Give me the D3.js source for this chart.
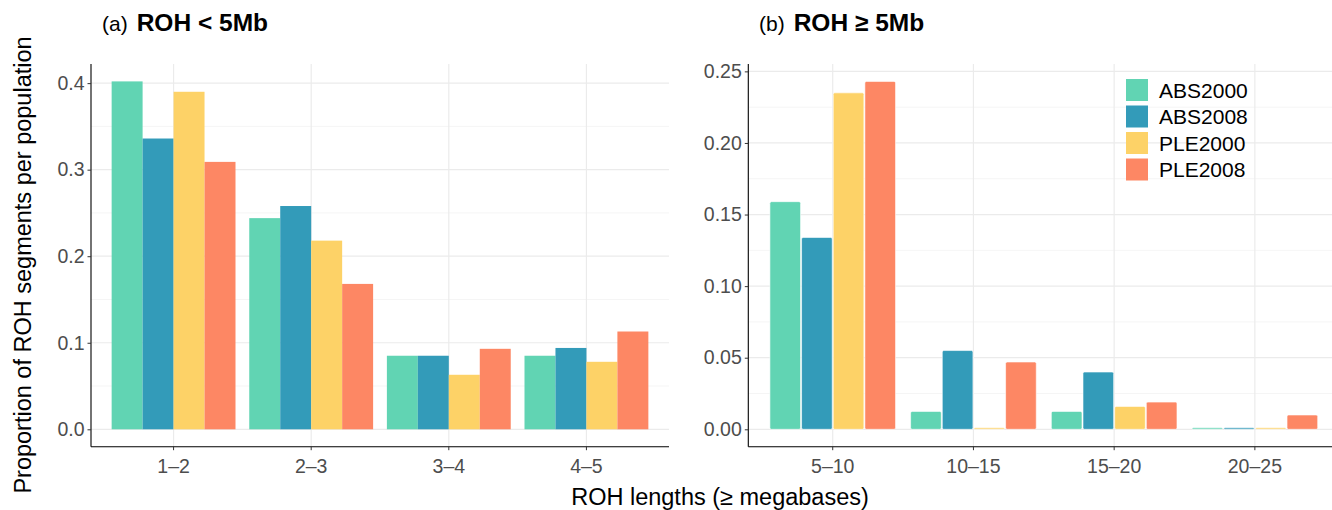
<!DOCTYPE html>
<html>
<head>
<meta charset="utf-8">
<script src="https://cdn.jsdelivr.net/npm/d3@7"></script>
<style>
  body { margin: 0; background: #fff; }
  svg { display: block; font-family: "Liberation Sans", Arial, sans-serif; }
  .tick text { fill: #4d4d4d; font-size: 19.5px; }
</style>
</head>
<body>
<div id="chart"></div>
<script>
const populations = ["ABS2000", "ABS2008", "PLE2000", "PLE2008"];
const colors = ["#61d4b3", "#339bb9", "#fdd267", "#fd8764"];

const shortBins = ["1–2", "2–3", "3–4", "4–5"];
const shortABS2000 = [0.402, 0.244, 0.085, 0.085];
const shortABS2008 = [0.336, 0.258, 0.085, 0.094];
const shortPLE2000 = [0.390, 0.218, 0.063, 0.078];
const shortPLE2008 = [0.309, 0.168, 0.093, 0.113];

const longBins = ["5–10", "10–15", "15–20", "20–25"];
const longABS2000 = [0.159, 0.0125, 0.0125, 0.001];
const longABS2008 = [0.134, 0.055, 0.040, 0.001];
const longPLE2000 = [0.235, 0.001, 0.016, 0.001];
const longPLE2008 = [0.243, 0.047, 0.019, 0.010];

const yTicksA = [0, 0.1, 0.2, 0.3, 0.4];
const yTicksB = [0, 0.05, 0.10, 0.15, 0.20, 0.25];

const width = 1332;
const height = 510;
const plotTop = 64;
const plotBottom = 446.7;

const svg = d3.select('#chart')
  .append('svg')
  .attr('width', width)
  .attr('height', height)

function panel(opts) {
  const rows = opts.series;
  const table = opts.bins.map((b, i) => ({
    bin: b,
    values: populations.map((p, j) => ({ pop: p, value: rows[j][i], color: colors[j] }))
  }));
  const maxVal = d3.max(rows.flat());
  const pad = maxVal * 0.05;

  const x = d3.scaleBand()
    .domain(opts.bins)
    .range([opts.left, opts.right])
    .paddingInner(0.1)
    .paddingOuter(0.15)

  const xInner = d3.scaleBand()
    .domain(populations)
    .range([0, x.bandwidth()])

  const y = d3.scaleLinear()
    .domain([-pad, maxVal + pad])
    .range([plotBottom, plotTop])

  const g = svg.append('g');

  // minor grid
  const minor = opts.ticks.slice(0, -1).map((t, i) => (t + opts.ticks[i + 1]) / 2);
  const lastStep = opts.ticks[1] - opts.ticks[0];
  const extra = opts.ticks[opts.ticks.length - 1] + lastStep / 2;
  if (extra < maxVal + pad) minor.push(extra);
  g.selectAll('.minor')
    .data(minor)
    .enter().append('line')
    .attr('x1', opts.left).attr('x2', opts.right)
    .attr('y1', d => y(d)).attr('y2', d => y(d))
    .attr('stroke', '#f2f2f2').attr('stroke-width', 0.8)

  g.selectAll('.major')
    .data(opts.ticks)
    .enter().append('line')
    .attr('x1', opts.left).attr('x2', opts.right)
    .attr('y1', d => y(d)).attr('y2', d => y(d))
    .attr('stroke', '#ebebeb').attr('stroke-width', 1.2)

  g.selectAll('.vgrid')
    .data(opts.bins)
    .enter().append('line')
    .attr('x1', d => x(d) + x.bandwidth() / 2).attr('x2', d => x(d) + x.bandwidth() / 2)
    .attr('y1', plotTop).attr('y2', plotBottom)
    .attr('stroke', '#ebebeb').attr('stroke-width', 1.2)

  const groups = g.selectAll('.grp')
    .data(table)
    .enter().append('g')
    .attr('transform', d => `translate(${x(d.bin)},0)`)

  groups.selectAll('rect')
    .data(d => d.values)
    .enter().append('rect')
    .attr('x', d => xInner(d.pop) + (opts.outline ? 0.5 : 0))
    .attr('width', xInner.bandwidth() - (opts.outline ? 1 : 0))
    .attr('y', d => y(d.value))
    .attr('height', d => y(0) - y(d.value))
    .attr('rx', opts.outline ? 1.5 : 0)
    .attr('fill', d => d.color)
    .attr('stroke', opts.outline ? '#fff' : 'none')
    .attr('stroke-width', opts.outline ? 0.6 : 0)

  const xAxis = d3.axisBottom(x).tickSize(3.5).tickSizeOuter(0).tickPadding(4);
  const yAxis = d3.axisLeft(y).tickValues(opts.ticks).tickFormat(opts.fmt).tickSize(3.5).tickSizeOuter(0).tickPadding(3);

  const xa = g.append('g')
    .attr('transform', `translate(0, ${plotBottom})`)
    .call(xAxis)
  xa.select('.domain').attr('stroke', '#000').attr('stroke-width', 1.1).attr('d', `M${opts.left},0H${opts.right}`)
  xa.selectAll('.tick line').attr('stroke', '#333')
  xa.selectAll('.tick text').attr('dy', '0.98em')

  const ya = g.append('g')
    .attr('transform', `translate(${opts.left}, 0)`)
    .call(yAxis)
  ya.select('.domain').attr('stroke', '#000').attr('stroke-width', 1.1).attr('d', `M0,${plotTop}V${plotBottom}`)
  ya.selectAll('.tick line').attr('stroke', '#333')

  const title = svg.append('text')
    .attr('x', opts.titleX)
    .attr('y', 31)
    .attr('fill', '#000')
  title.append('tspan').attr('font-size', 21).text(opts.tag);
  title.append('tspan').attr('dx', 9).attr('font-size', 24.5).attr('font-weight', 'bold').text(opts.title);

  return { x, y };
}

panel({
  bins: shortBins,
  series: [shortABS2000, shortABS2008, shortPLE2000, shortPLE2008],
  left: 91, right: 669,
  ticks: yTicksA, fmt: d3.format('.1f'),
  outline: false,
  titleX: 102, tag: '(a)', title: 'ROH < 5Mb'
});

panel({
  bins: longBins,
  series: [longABS2000, longABS2008, longPLE2000, longPLE2008],
  left: 748.3, right: 1339.3,
  ticks: yTicksB, fmt: d3.format('.2f'),
  outline: true,
  titleX: 759, tag: '(b)', title: 'ROH ≥ 5Mb'
});

// legend
const legend = svg.append('g').attr('transform', 'translate(1126, 79)');
const items = legend.selectAll('g')
  .data(populations)
  .enter().append('g')
  .attr('transform', (d, i) => `translate(0, ${i * 26.5})`)
items.append('rect')
  .attr('width', 22).attr('height', 22)
  .attr('fill', (d, i) => colors[i])
items.append('text')
  .attr('x', 33).attr('y', 18.5)
  .attr('font-size', 21).attr('fill', '#000')
  .text(d => d)

// axis titles
svg.append('text')
  .attr('transform', 'translate(31, 265) rotate(-90)')
  .attr('text-anchor', 'middle')
  .attr('font-size', 23.5).attr('fill', '#000')
  .text('Proportion of ROH segments per population')

svg.append('text')
  .attr('x', 720).attr('y', 505)
  .attr('text-anchor', 'middle')
  .attr('font-size', 23.5).attr('fill', '#000')
  .text('ROH lengths (≥ megabases)')
</script>
</body>
</html>
